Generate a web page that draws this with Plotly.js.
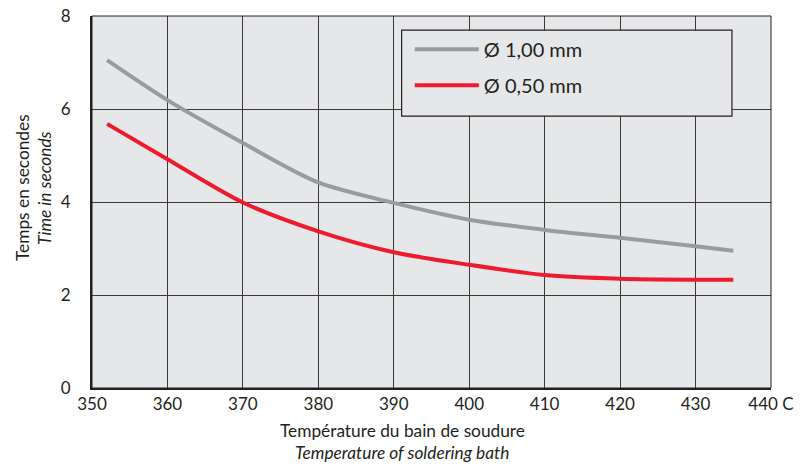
<!DOCTYPE html>
<html>
<head>
<meta charset="utf-8">
<script src="https://cdn.plot.ly/plotly-3.0.1.min.js"></script>
<style>html,body{margin:0;padding:0;background:#fff;}#chart{width:801px;height:465px;}</style>
</head>
<body>
<div id="chart"></div>
<script>
var temps = [352, 360, 370, 380, 390, 400, 410, 420, 430, 435];
var time100 = [7.05, 6.19, 5.27, 4.42, 3.98, 3.62, 3.40, 3.23, 3.05, 2.95];
var time050 = [5.68, 4.92, 3.99, 3.37, 2.92, 2.65, 2.43, 2.35, 2.33, 2.33];
var name100 = "Ø 1,00 mm";
var name050 = "Ø 0,50 mm";
var xTickVals = [350, 360, 370, 380, 390, 400, 410, 420, 430, 440];
var xTickText = ["350", "360", "370", "380", "390", "400", "410", "420", "430", "440 C"];
var yTickVals = [0, 2, 4, 6, 8];

var FONT = "Lato, 'DejaVu Sans', sans-serif";
var traces = [
  {x: temps, y: time100, name: name100, mode: "lines", legendgroup: "a",
   line: {color: "#9a9b9d", width: 4, shape: "spline", smoothing: 0.8}},
  {x: temps, y: time050, name: name050, mode: "lines", legendgroup: "b",
   line: {color: "#ec1c2e", width: 4, shape: "spline", smoothing: 0.8}}
];
var layout = {
  width: 801, height: 465,
  margin: {l: 92, r: 30, t: 16, b: 77},
  paper_bgcolor: "#ffffff",
  plot_bgcolor: "#e6e7e9",
  font: {family: FONT, color: "#231f20", size: 17.3},
  showlegend: true,
  legend: {x: 0.468, y: 0.963, xanchor: "left", yanchor: "top",
           bgcolor: "rgba(0,0,0,0)", borderwidth: 0, itemwidth: 64,
           traceorder: "grouped", tracegroupgap: 7,
           font: {family: FONT, size: 20, color: "#231f20"}},
  xaxis: {range: [350, 440], tickvals: xTickVals, ticktext: xTickText,
          showgrid: true, gridcolor: "#3a3a3a", gridwidth: 1,
          showline: true, linecolor: "#231f20", linewidth: 2,
          ticks: "", tickfont: {size: 17}, zeroline: false, fixedrange: true},
  yaxis: {range: [0, 8], tickvals: yTickVals,
          showgrid: true, gridcolor: "#3a3a3a", gridwidth: 1,
          showline: true, linecolor: "#231f20", linewidth: 2,
          ticks: "outside", ticklen: 16, tickcolor: "rgba(0,0,0,0)",
          tickfont: {size: 17}, zeroline: false, fixedrange: true},
  shapes: [
    {type: "rect", xref: "paper", yref: "paper", x0: 0, x1: 1, y0: 0, y1: 1,
     line: {color: "#231f20", width: 1}, layer: "above"},
    {type: "rect", xref: "paper", yref: "paper", x0: 0.456, x1: 0.9425, y0: 0.731, y1: 0.962,
     fillcolor: "#e6e7e9", line: {color: "#231f20", width: 1.2}, layer: "above"}
  ],
  annotations: [
    {text: "Temps en secondes", xref: "paper", yref: "paper", x: -(92 - 22) / 679, y: (388 - 188) / 372,
     textangle: -90, showarrow: false, xanchor: "center", yanchor: "middle"},
    {text: "<i>Time in seconds</i>", xref: "paper", yref: "paper", x: -(92 - 44) / 679, y: (388 - 188) / 372,
     textangle: -90, showarrow: false, xanchor: "center", yanchor: "middle"},
    {text: "Température du bain de soudure", xref: "paper", yref: "paper", x: (402 - 92) / 679, y: -(431 - 388) / 372,
     showarrow: false, xanchor: "center", yanchor: "middle"},
    {text: "<i>Temperature of soldering bath</i>", xref: "paper", yref: "paper", x: (402 - 92) / 679, y: -(452 - 388) / 372,
     showarrow: false, xanchor: "center", yanchor: "middle"}
  ]
};
Plotly.newPlot("chart", traces, layout, {displayModeBar: false, staticPlot: true});
</script>
</body>
</html>
